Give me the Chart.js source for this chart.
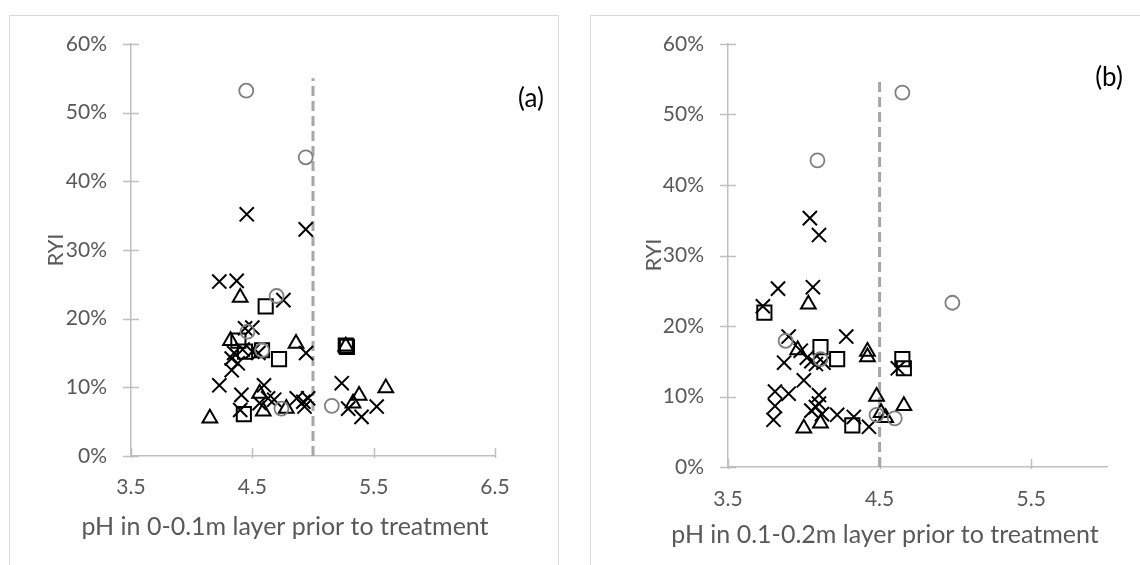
<!DOCTYPE html>
<html><head><meta charset="utf-8">
<script src="https://cdn.jsdelivr.net/npm/chart.js@4.4.1/dist/chart.umd.min.js"></script>
<style>
html,body{margin:0;padding:0;background:#fff;width:1140px;height:565px;overflow:hidden;}
.panel{position:absolute;border:1.5px solid #d9d9d9;box-sizing:border-box;}
canvas{position:absolute;}
</style></head><body>
<div class="panel" style="left:9px;top:15px;width:550px;height:570px;"></div>
<div class="panel" style="left:590px;top:15px;width:570px;height:570px;"></div>
<canvas id="ca" style="left:0;top:0;" width="570" height="565"></canvas>
<canvas id="cb" style="left:570px;top:0;" width="570" height="565"></canvas>
<script>
// ---- Panel (a): pH in 0-0.1m layer ----
const circlesAX = [4.45,4.94,4.70,4.46,4.58,4.74,5.155];
const circlesAY = [53.2,43.5,23.3,18.1,15.4,6.9,7.3];
const squaresAX = [4.61,4.385,5.27,5.28,4.58,4.72,4.44,4.43];
const squaresAY = [21.8,16.8,16.1,15.9,15.4,14.1,15.2,6.1];
const trianglesAX = [4.40,4.32,4.86,5.27,4.56,4.59,4.78,4.15,5.38,5.33,5.60];
const trianglesAY = [23.1,16.8,16.4,16.0,9.1,6.5,6.9,5.5,8.8,7.7,9.9];
const crossesAX = [4.454,4.94,4.228,4.371,4.756,4.44,4.50,4.943,4.33,4.228,4.596,5.237,4.41,4.40,4.56,4.63,4.68,4.866,4.92,4.96,4.93,5.29,5.40,5.525,4.35,4.33,4.42,4.50,4.55,4.38];
const crossesAY = [35.2,33.0,25.4,25.5,22.7,18.6,18.7,15.0,12.5,10.3,10.3,10.6,8.9,6.7,7.7,8.4,8.2,8.4,7.9,8.4,7.2,6.9,5.7,7.2,15.0,14.2,15.5,15.2,15.0,13.5];
const thresholdA = 5.0;
const xTicksA = [3.5,4.5,5.5,6.5];
const xRangeA = [3.5,6.5];

// ---- Panel (b): pH in 0.1-0.2m layer ----
const circlesBX = [4.65,4.09,4.98,3.88,4.11,4.48,4.60];
const circlesBY = [53.1,43.5,23.3,17.9,15.3,7.4,6.9];
const squaresBX = [3.74,4.11,4.22,4.65,4.66,4.32];
const squaresBY = [21.9,17.0,15.3,15.3,14.0,5.9];
const trianglesBX = [4.03,3.96,4.42,4.42,4.48,4.66,4.51,4.54,4.00,4.11];
const trianglesBY = [23.1,16.6,16.4,15.6,10.0,8.7,7.7,7.0,5.5,6.2];
const crossesBX = [4.04,4.10,3.83,4.06,3.73,3.90,4.28,3.87,4.00,3.81,3.90,3.81,3.80,4.10,4.22,4.33,4.43,4.62,3.98,4.02,4.05,4.08,4.13,4.05,4.08,4.12,4.10];
const crossesBY = [35.3,32.9,25.3,25.5,22.8,18.5,18.5,14.8,12.3,10.7,10.4,8.65,6.7,10.2,7.4,7.1,5.7,14.0,16.5,15.5,15.0,14.6,14.8,8.0,8.5,7.5,9.0];
const thresholdB = 4.5;
const xTicksB = [3.5,4.5,5.5];
const xRangeB = [3.5,6.0];

const yTicks = [0,10,20,30,40,50,60];
const dashTop = 55;

const FONT = "Lato, 'Open Sans', sans-serif";
const GREY_TXT = '#595959';
const AXIS = '#bfbfbf';

function pts(xs, ys){ return xs.map((x,i)=>({x:x, y:ys[i]})); }

const crossTicks = {
  id:'crossTicks',
  beforeDatasetsDraw(chart, args, opts){
    const ctx = chart.ctx, xs = chart.scales.x, ys = chart.scales.y;
    ctx.save();
    ctx.strokeStyle = AXIS; ctx.lineWidth = 1.5;
    ys.ticks.forEach(t=>{
      const py = Math.round(ys.getPixelForValue(t.value))+0.5;
      ctx.beginPath(); ctx.moveTo(xs.left-8, py); ctx.lineTo(xs.left+8, py); ctx.stroke();
    });
    xs.ticks.forEach(t=>{
      const px = Math.round(xs.getPixelForValue(t.value))+0.5;
      ctx.beginPath(); ctx.moveTo(px, ys.bottom-8); ctx.lineTo(px, ys.bottom+2); ctx.stroke();
    });
    ctx.restore();
  }
};

const titles = {
  id:'titles',
  afterDraw(chart, args, o){
    const ctx = chart.ctx;
    ctx.save();
    ctx.fillStyle = GREY_TXT;
    ctx.font = "25px " + FONT;
    ctx.textAlign = 'center'; ctx.textBaseline = 'middle';
    ctx.fillText(o.xTitle, o.xTitlePos[0], o.xTitlePos[1]);
    ctx.save();
    ctx.translate(o.yTitlePos[0], o.yTitlePos[1]);
    ctx.rotate(-Math.PI/2);
    ctx.font = "22px " + FONT;
    ctx.fillText('RYI', 0, 0);
    ctx.restore();
    ctx.fillStyle = '#000';
    ctx.font = "26px " + FONT;
    ctx.fillText(o.tag, o.tagPos[0], o.tagPos[1]);
    ctx.restore();
  }
};

function makeChart(id, d){
  const datasets = [
    {label:'threshold', data:[{x:d.th,y:0},{x:d.th,y:dashTop}], showLine:true, borderColor:'#a6a6a6', borderWidth:3, borderDash:[10,5], pointRadius:0, order:10},
    {label:'circle', data:pts(d.cx,d.cy), pointStyle:'circle', pointRadius:7, borderColor:'#7f7f7f', backgroundColor:'rgba(0,0,0,0)', pointBorderWidth:1.8, order:1},
    {label:'square', data:pts(d.sx,d.sy), pointStyle:'rect', pointRadius:10, borderColor:'#000', backgroundColor:'rgba(0,0,0,0)', pointBorderWidth:2, order:2},
    {label:'triangle', data:pts(d.tx,d.ty), pointStyle:'triangle', pointRadius:8.5, borderColor:'#000', backgroundColor:'rgba(0,0,0,0)', pointBorderWidth:2, order:3},
    {label:'cross', data:pts(d.xx,d.xy), pointStyle:'crossRot', pointRadius:10, borderColor:'#000', backgroundColor:'#000', pointBorderWidth:2, order:4}
  ];
  return new Chart(document.getElementById(id), {
    type:'scatter',
    data:{datasets},
    options:{
      responsive:false, animation:false, events:[],
      layout:{padding:{left:0, right:d.padR, top:44, bottom:0}},
      plugins:{legend:{display:false}, tooltip:{enabled:false}, titles:d.titles},
      scales:{
        x:{type:'linear', min:d.xr[0], max:d.xr[1],
           afterBuildTicks:(s)=>{ s.ticks = d.xt.map(v=>({value:v})); },
           afterFit:(s)=>{ s.height = d.xH; },
           grid:{display:false}, border:{display:true, color:AXIS, width:1.5},
           ticks:{color:GREY_TXT, font:{family:FONT, size:21}, padding:d.xPad, callback:(v)=>v.toFixed(1)}},
        y:{type:'linear', min:0, max:60,
           afterBuildTicks:(s)=>{ s.ticks = yTicks.map(v=>({value:v})); },
           afterFit:(s)=>{ s.width = d.yW; },
           grid:{display:false}, border:{display:true, color:AXIS, width:1.5},
           ticks:{color:GREY_TXT, font:{family:FONT, size:21}, padding:16, callback:(v)=>v+'%'}}
      }
    },
    plugins:[crossTicks, titles]
  });
}

makeChart('ca', {th:thresholdA, cx:circlesAX, cy:circlesAY, sx:squaresAX, sy:squaresAY, tx:trianglesAX, ty:trianglesAY, xx:crossesAX, xy:crossesAY,
  xr:xRangeA, xt:xTicksA, padR:75, yW:131, xH:109, xPad:11,
  titles:{xTitle:'pH in 0-0.1m layer prior to treatment', xTitlePos:[285,527], yTitlePos:[56,250], tag:'(a)', tagPos:[531,99]}});
makeChart('cb', {th:thresholdB, cx:circlesBX, cy:circlesBY, sx:squaresBX, sy:squaresBY, tx:trianglesBX, ty:trianglesBY, xx:crossesBX, xy:crossesBY,
  xr:xRangeB, xt:xTicksB, padR:33, yW:158, xH:98, xPad:12,
  titles:{xTitle:'pH in 0.1-0.2m layer prior to treatment', xTitlePos:[315,535], yTitlePos:[84,255], tag:'(b)', tagPos:[539,78]}});
</script>
</body></html>
